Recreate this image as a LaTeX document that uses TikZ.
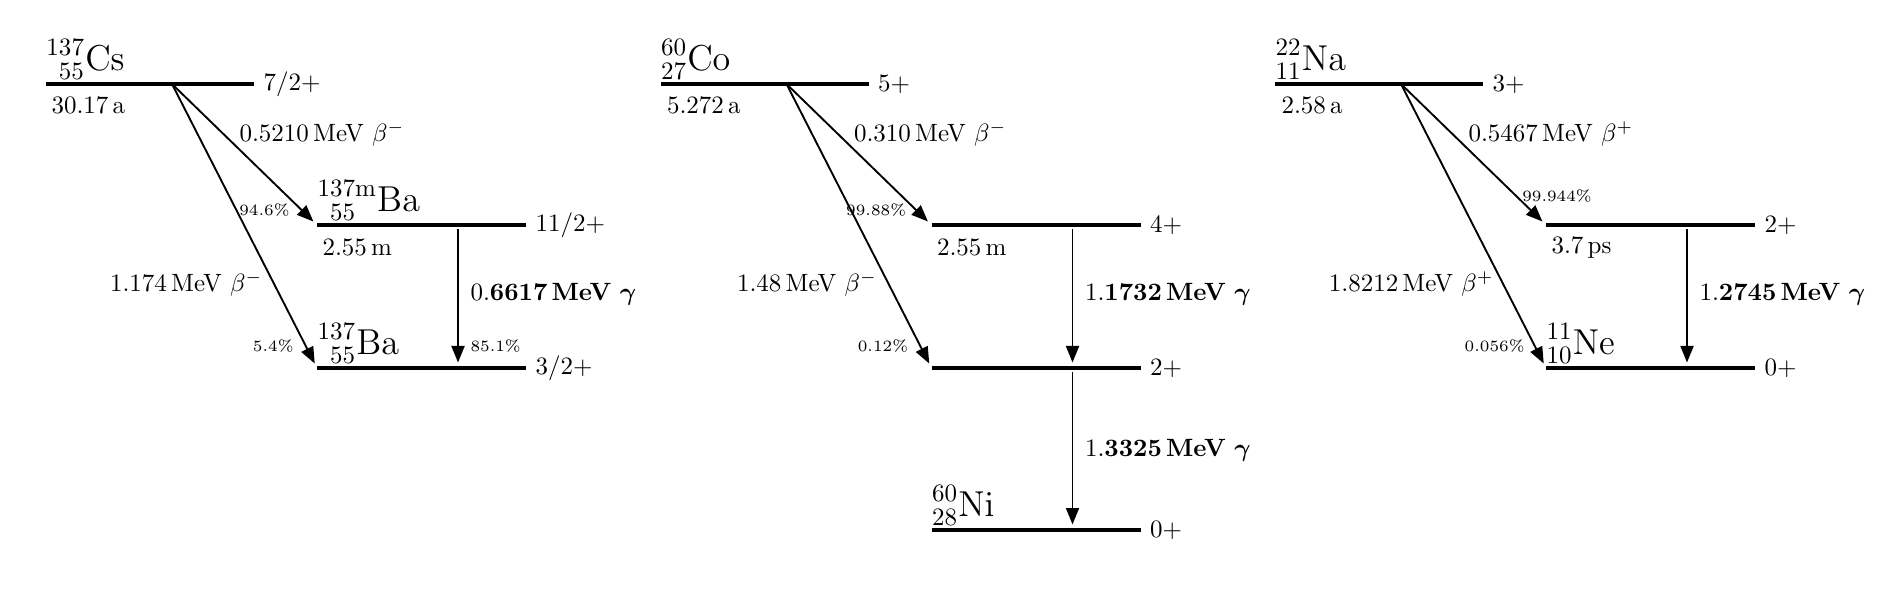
\documentclass[tikz,border=0pt]{standalone}
\usepackage{amsmath,mathtools}
\usetikzlibrary{arrows.meta}
\tikzset{
  lvl/.style={line width=1.3pt},
  decay/.style={line width=0.75pt,-{Triangle[length=6.6pt,width=5.2pt]},shorten >=2pt},
  gam/.style={line width=0.75pt,-{Triangle[length=6.6pt,width=5.2pt]},shorten <=1.8pt,shorten >=2.2pt},
  spin/.style={anchor=west,inner sep=0pt,xshift=3.2pt},
  txt/.style={inner sep=0pt},
  pct/.style={inner sep=0pt,font=\fontsize{6.3}{7}\selectfont},
  nuc/.style={inner sep=0pt,font=\Large,anchor=south west},
}
\begin{document}
\begin{tikzpicture}[x=0.4pt,y=-0.4pt]
\useasboundingbox (0,0) rectangle (1890,591);
% ---------------- Cs-137 ----------------
\begin{scope}
\coordinate (A-pl) at (46,84);   \coordinate (A-pr) at (254,84);
\coordinate (A-m1l) at (317,225); \coordinate (A-m1r) at (526,225);
\coordinate (A-g0l) at (317,368); \coordinate (A-g0r) at (526,368);
\coordinate (A-br) at (172,84);
\coordinate (A-ga) at (458,225); \coordinate (A-gb) at (458,368);
\draw[lvl] (A-pl) -- (A-pr) node[spin] (A-s0) {$7/2+$};
\draw[lvl] (A-m1l) -- (A-m1r) node[spin] (A-s1) {$11/2+$};
\draw[lvl] (A-g0l) -- (A-g0r) node[spin] (A-s2) {$3/2+$};
\node[nuc] (A-n0) at (46,80) {$\prescript{137}{55}{\mathrm{Cs}}$};
\node[nuc] (A-n1) at (317,221) {$\prescript{137\mathrm{m}}{55\phantom{\mathrm{m}}}{\mathrm{Ba}}$};
\node[nuc] (A-n2) at (317,364) {$\prescript{137}{55}{\mathrm{Ba}}$};
\node[txt,anchor=west] (A-t0) at (51,105) {30.17\,a};
\node[txt,anchor=west] (A-t1) at (322,247) {2.55\,m};
\draw[decay] (A-br) -- (A-m1l);
\draw[decay] (A-br) -- (A-g0l);
\draw[gam] (A-ga) -- (A-gb);
\node[txt,anchor=west] (A-e1) at (239,134) {0.5210\,MeV $\beta^-$};
\node[txt,anchor=east] (A-e2) at (263,284) {1.174\,MeV $\beta^-$};
\node[txt,anchor=west] (A-e3) at (470,294) {0.\textbf{6617}\,\textbf{MeV} $\boldsymbol{\gamma}$};
\node[pct,anchor=east] (A-p1) at (290,210) {94.6\%};
\node[pct,anchor=east] (A-p2) at (294,346) {5.4\%};
\node[pct,anchor=west] (A-p3) at (470,346) {85.1\%};
\end{scope}
% ---------------- Co-60 ----------------
\begin{scope}[shift={(614.5,0)}]
\coordinate (B-pl) at (46,84);   \coordinate (B-pr) at (254,84);
\coordinate (B-m1l) at (317,225); \coordinate (B-m1r) at (526,225);
\coordinate (B-m2l) at (317,368); \coordinate (B-m2r) at (526,368);
\coordinate (B-g0l) at (317,530); \coordinate (B-g0r) at (526,530);
\coordinate (B-br) at (172,84);
\coordinate (B-ga) at (458,225); \coordinate (B-gb) at (458,368); \coordinate (B-gc) at (458,530);
\draw[lvl] (B-pl) -- (B-pr) node[spin] (B-s0) {$5+$};
\draw[lvl] (B-m1l) -- (B-m1r) node[spin] (B-s1) {$4+$};
\draw[lvl] (B-m2l) -- (B-m2r) node[spin] (B-s2) {$2+$};
\draw[lvl] (B-g0l) -- (B-g0r) node[spin] (B-s3) {$0+$};
\node[nuc] (B-n0) at (46,80) {$\prescript{60}{27}{\mathrm{Co}}$};
\node[nuc] (B-n3) at (317,526) {$\prescript{60}{28}{\mathrm{Ni}}$};
\node[txt,anchor=west] (B-t0) at (52,105) {5.272\,a};
\node[txt,anchor=west] (B-t1) at (322,247) {2.55\,m};
\draw[decay] (B-br) -- (B-m1l);
\draw[decay] (B-br) -- (B-m2l);
\draw[gam] (B-ga) -- (B-gb);
\draw[gam] (B-gb) -- (B-gc);
\node[txt,anchor=west] (B-e1) at (239,134) {0.310\,MeV $\beta^-$};
\node[txt,anchor=east] (B-e2) at (263,284) {1.48\,MeV $\beta^-$};
\node[txt,anchor=west] (B-e3) at (470,294) {1.\textbf{1732}\,\textbf{MeV} $\boldsymbol{\gamma}$};
\node[txt,anchor=west] (B-e4) at (470,450) {1.\textbf{3325}\,\textbf{MeV} $\boldsymbol{\gamma}$};
\node[pct,anchor=east] (B-p1) at (292,210) {99.88\%};
\node[pct,anchor=east] (B-p2) at (294,346) {0.12\%};
\end{scope}
% ---------------- Na-22 ----------------
\begin{scope}[shift={(1229,0)}]
\coordinate (C-pl) at (46,84);   \coordinate (C-pr) at (254,84);
\coordinate (C-m1l) at (317,225); \coordinate (C-m1r) at (526,225);
\coordinate (C-g0l) at (317,368); \coordinate (C-g0r) at (526,368);
\coordinate (C-br) at (172,84);
\coordinate (C-ga) at (458,225); \coordinate (C-gb) at (458,368);
\draw[lvl] (C-pl) -- (C-pr) node[spin] (C-s0) {$3+$};
\draw[lvl] (C-m1l) -- (C-m1r) node[spin] (C-s1) {$2+$};
\draw[lvl] (C-g0l) -- (C-g0r) node[spin] (C-s2) {$0+$};
\node[nuc] (C-n0) at (46,80) {$\prescript{22}{11}{\mathrm{Na}}$};
\node[nuc] (C-n2) at (317,364) {$\prescript{11}{10}{\mathrm{Ne}}$};
\node[txt,anchor=west] (C-t0) at (52,105) {2.58\,a};
\node[txt,anchor=west] (C-t1) at (322,247) {3.7\,ps};
\draw[decay] (C-br) -- (C-m1l);
\draw[decay] (C-br) -- (C-g0l);
\draw[gam] (C-ga) -- (C-gb);
\node[txt,anchor=west] (C-e1) at (239,134) {0.5467\,MeV $\beta^+$};
\node[txt,anchor=east] (C-e2) at (265,284) {1.8212\,MeV $\beta^+$};
\node[txt,anchor=west] (C-e3) at (470,294) {1.\textbf{2745}\,\textbf{MeV} $\boldsymbol{\gamma}$};
\node[pct] (C-p1) at (328,196) {99.944\%};
\node[pct,anchor=east] (C-p2) at (296,346) {0.056\%};
\end{scope}
\end{tikzpicture}
\end{document}
